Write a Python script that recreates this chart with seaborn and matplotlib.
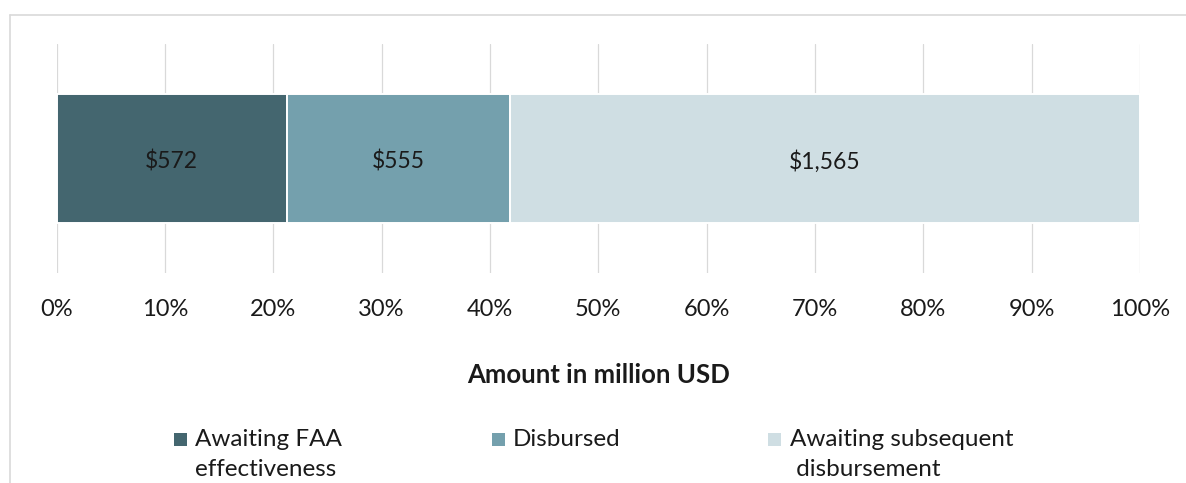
import matplotlib
matplotlib.use("Agg")
import matplotlib.pyplot as plt
from matplotlib.patches import Rectangle
from matplotlib.lines import Line2D
import pandas as pd
import seaborn as sns

# Funding status breakdown (million USD)
statuses = ["Awaiting FAA effectiveness", "Disbursed", "Awaiting subsequent disbursement"]
legend_labels = ["Awaiting FAA\neffectiveness", "Disbursed", "Awaiting subsequent\n disbursement"]
amounts = [572, 555, 1565]
colors = ["#44666F", "#74A0AD", "#CFDEE3"]
tick_values = [0, 10, 20, 30, 40, 50, 60, 70, 80, 90, 100]
tick_labels = [f"{t}%" for t in tick_values]
axis_title = "Amount in million USD"

W, H = 1186, 483
TEXT = "#1a1a1a"

sns.set_theme(style="white")
plt.rcParams["font.family"] = ["Lato", "DejaVu Sans"]


def fx(px):
    return px / W


def fy(py):
    return 1 - py / H


fig = plt.figure(figsize=(W / 100, H / 100), dpi=100)
fig.patch.set_facecolor("white")

ax = fig.add_axes([fx(56.5), fy(273), fx(1140) - fx(56.5), fy(44) - fy(273)])

total = sum(amounts)
shares = [a / total * 100 for a in amounts]
lefts = [sum(shares[:i]) for i in range(len(shares))]
df = pd.DataFrame({"status": statuses, "share": shares, "left": lefts, "row": [""] * len(statuses)})

# 100% stacked horizontal bar, one segment per status
for i, rec in df.iterrows():
    sns.barplot(data=df.iloc[[i]], x="share", y="row", orient="y",
                left=rec["left"], color=colors[i], saturation=1,
                width=0.563, edgecolor="white", linewidth=1.4, ax=ax)

# Value labels in the middle of each segment
for container, amt in zip(ax.containers, amounts):
    rect = container[0]
    ax.annotate(f"${amt:,}",
                (rect.get_x() + rect.get_width() / 2, rect.get_y() + rect.get_height() / 2),
                xytext=(0, -2), textcoords="offset points",
                ha="center", va="center", fontsize=16.5, color=TEXT)

ax.set_xlim(0, 100)
ax.set_ylim(0.5, -0.5)
ax.set_xticks(tick_values, tick_labels)
ax.set_yticks([])
ax.set_ylabel("")
ax.xaxis.grid(True, color="#d9d9d9", linewidth=0.9)
ax.yaxis.grid(False)
ax.set_axisbelow(True)
sns.despine(ax=ax, left=True, bottom=True)
ax.tick_params(axis="x", length=0, pad=19, labelsize=17, labelcolor=TEXT)

# Axis title
ax.set_xlabel(axis_title, fontsize=18.5, fontweight="bold", color=TEXT)
ax_h = fy(44) - fy(273)
ax.xaxis.set_label_coords(0.5, (fy(383) - fy(273)) / ax_h)
ax.xaxis.label.set_va("baseline")

# Legend along the bottom
marker_x = [174, 492, 768]
text_x = [195, 513, 790]
for mx, tx, c, lab in zip(marker_x, text_x, colors, legend_labels):
    fig.add_artist(Rectangle((fx(mx), fy(446)), 13 / W, 13 / H,
                             transform=fig.transFigure, facecolor=c, edgecolor="none"))
    fig.text(fx(tx), fy(429), lab, ha="left", va="top", fontsize=17.5,
             color=TEXT, linespacing=1.55)

# Chart area frame
frame_kw = dict(color="#d9d9d9", linewidth=1.2, transform=fig.transFigure)
fig.add_artist(Line2D([fx(9.5), fx(9.5)], [fy(14.5), 0], **frame_kw))
fig.add_artist(Line2D([fx(9.5), 1], [fy(14.5), fy(14.5)], **frame_kw))

fig.savefig("out.png", dpi=100, facecolor="white")
